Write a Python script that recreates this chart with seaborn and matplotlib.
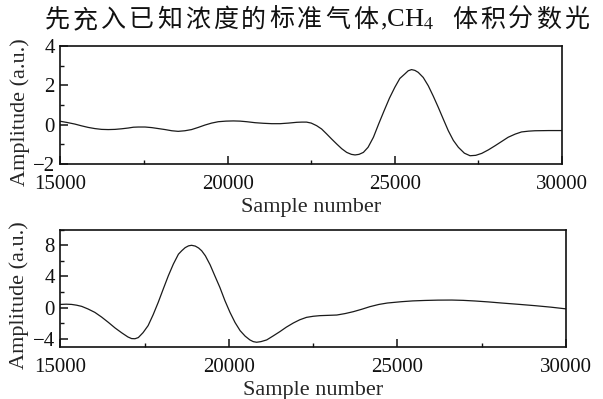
import matplotlib
matplotlib.use('Agg')
import matplotlib.pyplot as plt
from matplotlib.ticker import MultipleLocator
import seaborn as sns

# Text line of the paper that sits above the figure (cut in the crop)
title_head = '先充入已知浓度的标准气体'
title_mid = ',CH$_4$'
title_tail = '体积分数光'

# Axis labels
x_label = 'Sample number'
y_label = 'Amplitude (a.u.)'

# Upper panel: signal
top_x = [15000, 15200, 15430, 15630, 15830, 16030, 16230, 16430, 16630, 16830,
         17030, 17180, 17330, 17530, 17730, 17930, 18130, 18330, 18520, 18720,
         18920, 19120, 19320, 19520, 19720, 19950, 20170, 20370, 20570, 20820,
         21070, 21320, 21570, 21820, 22070, 22220, 22360, 22500, 22660, 22810,
         22960, 23110, 23260, 23410, 23560, 23700, 23810, 23930, 24060, 24200,
         24360, 24520, 24680, 24840, 25000, 25150, 25300, 25400, 25500, 25600,
         25700, 25850, 26000, 26150, 26300, 26450, 26600, 26750, 26900, 27080,
         27250, 27420, 27600, 27800, 28000, 28200, 28390, 28600, 28790, 29000,
         29190, 29600, 30000]
top_y = [0.17, 0.11, 0.03, -0.06, -0.14, -0.2, -0.24, -0.25, -0.24, -0.21,
         -0.17, -0.13, -0.12, -0.12, -0.15, -0.2, -0.25, -0.31, -0.34, -0.31,
         -0.25, -0.14, -0.02, 0.08, 0.15, 0.18, 0.19, 0.18, 0.15, 0.1,
         0.07, 0.05, 0.05, 0.08, 0.12, 0.13, 0.13, 0.08, -0.05, -0.22,
         -0.47, -0.73, -0.98, -1.22, -1.41, -1.51, -1.54, -1.51, -1.41, -1.15,
         -0.64, 0.05, 0.71, 1.35, 1.9, 2.35, 2.58, 2.74, 2.8, 2.76,
         2.66, 2.4, 1.98, 1.45, 0.88, 0.28, -0.31, -0.8, -1.15, -1.45,
         -1.58, -1.56, -1.46, -1.28, -1.07, -0.85, -0.64, -0.48, -0.37, -0.33,
         -0.31, -0.3, -0.3]

# Lower panel
bottom_x = [15000, 15170, 15330, 15480, 15630, 15820, 16020, 16220, 16420, 16620,
            16820, 17000, 17110, 17210, 17310, 17450, 17600, 17750, 17900, 18050,
            18200, 18350, 18500, 18600, 18700, 18800, 18890, 19000, 19100, 19190,
            19300, 19440, 19580, 19730, 19880, 20030, 20180, 20330, 20480, 20620,
            20720, 20820, 20950, 21120, 21300, 21510, 21700, 21910, 22100, 22300,
            22500, 22700, 22950, 23200, 23450, 23690, 23940, 24180, 24450, 24700,
            25120, 25450, 25820, 26200, 26610, 26950, 27300, 27700, 28090, 28600,
            29080, 29550, 30000]
bottom_y = [0.42, 0.45, 0.42, 0.32, 0.17, -0.17, -0.6, -1.2, -1.88, -2.6,
            -3.23, -3.75, -3.96, -3.98, -3.83, -3.2, -2.3, -0.9, 0.68, 2.4,
            4.09, 5.6, 6.86, 7.31, 7.7, 7.93, 8.0, 7.9, 7.65, 7.3,
            6.65, 5.5, 4.09, 2.6, 0.9, -0.6, -1.9, -2.94, -3.65, -4.13,
            -4.35, -4.43, -4.35, -4.13, -3.65, -3.07, -2.5, -1.96, -1.55, -1.24,
            -1.1, -1.02, -0.98, -0.94, -0.75, -0.51, -0.2, 0.13, 0.42, 0.6,
            0.77, 0.87, 0.93, 0.97, 0.98, 0.94, 0.86, 0.74, 0.6, 0.43,
            0.26, 0.07, -0.15]

# Tick values
x_ticks = [15000, 20000, 25000, 30000]
top_y_ticks = [-2, 0, 2, 4]
bottom_y_ticks = [-4, 0, 4, 8]


def style_axis(ax, yticks, ylim, yminor):
    """
    Axis look of the paper: closed box, inward ticks only bottom/left.
    """
    ax.set_xlim(15000, 30000)
    ax.set_ylim(*ylim)
    ax.set_xticks(x_ticks)
    ax.set_yticks(yticks)
    ax.xaxis.set_minor_locator(MultipleLocator(2500))
    ax.yaxis.set_minor_locator(MultipleLocator(yminor))
    for side in ax.spines.values():
        side.set_visible(True)
        side.set_color('#111111')
        side.set_linewidth(1.2)
    ax.tick_params(which='both', direction='in', bottom=True, left=True,
                   top=False, right=False, colors='#111111', labelsize=15)
    ax.tick_params(which='major', length=5.5, width=1.1)
    ax.tick_params(which='minor', length=2.8, width=1.0)
    ax.tick_params(axis='x', which='major', pad=8)
    ax.tick_params(axis='y', which='major', pad=4)
    ax.set_xlabel(x_label, fontsize=16)
    ax.set_ylabel(y_label, fontsize=16)
    ax.xaxis.set_label_coords(0.5, -0.373)
    ax.xaxis.label.set_verticalalignment('center')
    ax.yaxis.set_label_coords(-0.081, 0.44)
    ax.yaxis.label.set_verticalalignment('center')


def main():
    sns.set_theme(style='white')
    # Serif fonts have to be set after seaborn theme
    plt.rcParams['font.family'] = ['Liberation Serif', 'DejaVu Serif']
    plt.rcParams['mathtext.fontset'] = 'stix'

    fig = plt.figure(figsize=(6.03, 3.99), dpi=100)
    fig.patch.set_facecolor('white')

    ax_top = fig.add_axes([0.1003, 0.589, 0.8317, 0.2957])
    ax_bot = fig.add_axes([0.1003, 0.1311, 0.8383, 0.2932])

    sns.lineplot(x=top_x, y=top_y, ax=ax_top, color='#1a1a1a', linewidth=0.9)
    sns.lineplot(x=bottom_x, y=bottom_y, ax=ax_bot, color='#1a1a1a', linewidth=0.9)

    style_axis(ax_top, top_y_ticks, (-2, 4), 1)
    style_axis(ax_bot, bottom_y_ticks, (-5, 10), 2)

    # Text line above, one glyph at a time to mimic the justified spacing
    ty = 1 - 20 / 399
    for i, ch in enumerate(title_head):
        fig.text((45 + i * 28) / 603, ty, ch, fontsize=18,
                 family=['Noto Sans CJK SC'], ha='left', va='center', color='#111111')
    fig.text(380 / 603, ty, title_mid, fontsize=19, ha='left', va='center', color='#111111')
    for i, ch in enumerate(title_tail):
        fig.text((452 + i * 28) / 603, ty, ch, fontsize=18,
                 family=['Noto Sans CJK SC'], ha='left', va='center', color='#111111')

    fig.savefig('out.png', dpi=100)


if __name__ == "__main__":
    main()
